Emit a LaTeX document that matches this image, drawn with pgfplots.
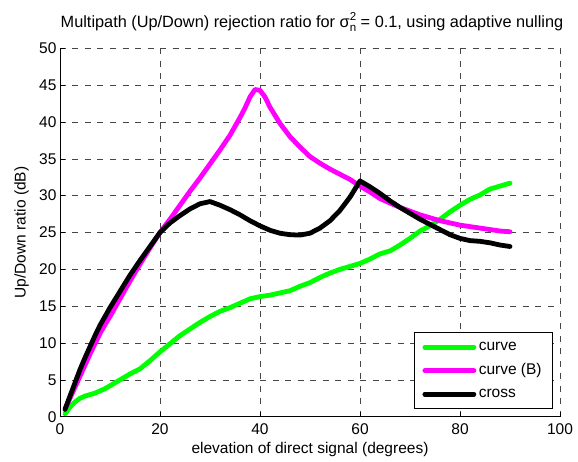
\documentclass[border=0pt]{standalone}
\usepackage{fontspec}
\setmainfont{Liberation Sans}
\usepackage{pgfplots}
\pgfplotsset{compat=1.18}

\definecolor{curvegreen}{RGB}{0,255,0}
\definecolor{curvemag}{RGB}{255,0,255}
\definecolor{gridgray}{RGB}{70,70,70}

\newcommand{\txt}{\fontsize{15.5}{17}\selectfont}

\begin{document}
\begin{tikzpicture}
\begin{axis}[
  name=ax,
  scale only axis,
  width=500pt, height=368.4pt,
  xmin=0, xmax=100, ymin=0, ymax=50,
  xtick={0,20,...,100}, ytick={0,5,...,50},
  axis lines=left,
  axis line style={-, line width=0.7pt},
  tick align=inside,
  major tick length=5pt,
  tick style={black, line width=0.6pt},
  grid=major,
  major grid style={dash pattern=on 6pt off 6.5pt, gridgray, line width=0.6pt},
  /pgf/number format/assume math mode=true,
  tick label style={font=\txt},
  xticklabel style={yshift=-3pt},
  every axis x label/.style={at={(axis description cs:0.5,0)}, yshift=-33pt, anchor=center, font=\txt},
  every axis y label/.style={at={(axis description cs:0,0.5)}, xshift=-38.3pt, rotate=90, anchor=center, font=\txt},
  every axis title/.style={at={(axis description cs:0.5,1)}, yshift=26pt, xshift=2pt, anchor=center, font=\fontsize{16.3}{18}\selectfont},
  xlabel={elevation of direct signal (degrees)},
  ylabel={Up/Down ratio (dB)},
  title={Multipath (Up/Down) rejection ratio for σ\rlap{\raisebox{0.75ex}{\fontsize{11.5}{12}\selectfont 2}}\raisebox{-0.55ex}{\fontsize{11.5}{12}\selectfont n} = 0.1, using adaptive nulling},
  legend cell align=left,
  legend style={at={(rel axis cs:0.986,0.021)}, anchor=south east,
    draw=black, line width=0.7pt, fill=white,
    font=\txt,
    nodes={inner xsep=2.5pt, inner ysep=0pt, text height=11pt, text depth=3.5pt},
    column sep=0pt, row sep=9pt, inner xsep=8.5pt, inner ysep=7.25pt},
  legend image code/.code={\draw[#1] (0pt,0pt) -- (49pt,0pt);},
  every axis plot/.append style={line join=round, line cap=round},
]
\addplot[curvegreen, line width=4.8pt] coordinates {
 (1,0.4) (2,1.3) (3,2.0) (4,2.5) (5,2.8) (6,3.0) (7,3.2) (8,3.5) (9,3.8)
 (10,4.2) (12,5.0) (14,5.8) (16,6.5) (18,7.6) (20,8.8) (22,9.9) (24,11.0)
 (26,11.9) (28,12.8) (30,13.6) (32,14.3) (34,14.8) (36,15.4) (38,16.0)
 (40,16.3) (42,16.5) (44,16.8) (46,17.1) (48,17.7) (50,18.2) (52,18.9)
 (54,19.5) (56,20.0) (58,20.4) (60,20.8) (62,21.4) (64,22.1) (66,22.5)
 (68,23.3) (70,24.2) (72,25.2) (74,25.9) (76,26.8) (78,27.8) (80,28.7)
 (82,29.5) (84,30.1) (86,30.9) (88,31.3) (90,31.7)
};
\addlegendentry{curve}
\addplot[curvemag, line width=4.8pt] coordinates {
 (1,1.0) (2,2.5) (3,4.0) (4,5.5) (5,7.0) (6,8.5) (7,9.9) (8,11.3) (9,12.5)
 (10,13.6) (12,16.0) (14,18.4) (16,20.7) (18,22.9) (20,25.0) (22,26.8)
 (24,28.7) (26,30.6) (28,32.4) (30,34.3) (32,36.2) (34,38.2) (36,40.6)
 (37,41.9) (38,43.4) (39,44.4) (40,44.3) (41,43.4) (42,42.0) (44,39.8)
 (46,38.0) (48,36.6) (50,35.3) (52,34.4) (54,33.6) (56,32.9) (58,32.2)
 (60,31.3) (62,30.5) (64,29.6) (66,29.0) (68,28.4) (70,27.9) (72,27.4)
 (74,27.0) (76,26.6) (78,26.3) (80,26.0) (82,25.8) (84,25.6) (86,25.4)
 (88,25.2) (90,25.1)
};
\addlegendentry{curve (B)}
\addplot[black, line width=4.8pt] coordinates {
 (1,1.0) (2,2.8) (3,4.6) (4,6.4) (5,8.0) (6,9.5) (7,11.0) (8,12.4) (9,13.6)
 (10,14.8) (12,17.0) (14,19.2) (16,21.2) (18,23.1) (20,25.0) (22,26.3)
 (24,27.3) (26,28.2) (28,28.9) (30,29.2) (32,28.7) (34,28.1) (36,27.4)
 (38,26.6) (40,25.9) (42,25.3) (44,24.9) (46,24.7) (48,24.65) (50,24.9)
 (52,25.6) (54,26.6) (56,28.0) (58,29.8) (60,32.0) (62,31.2) (64,30.3)
 (66,29.3) (68,28.4) (70,27.6) (72,26.8) (74,26.1) (76,25.4) (78,24.7)
 (80,24.2) (82,23.9) (84,23.8) (86,23.6) (88,23.3) (90,23.1)
};
\addlegendentry{cross}
\end{axis}
% fixed page frame around the axis box
\pgfresetboundingbox
\path ([shift={(-60pt,-45.3pt)}]ax.south west) rectangle ([shift={(18pt,48.3pt)}]ax.north east);
\end{tikzpicture}
\end{document}
